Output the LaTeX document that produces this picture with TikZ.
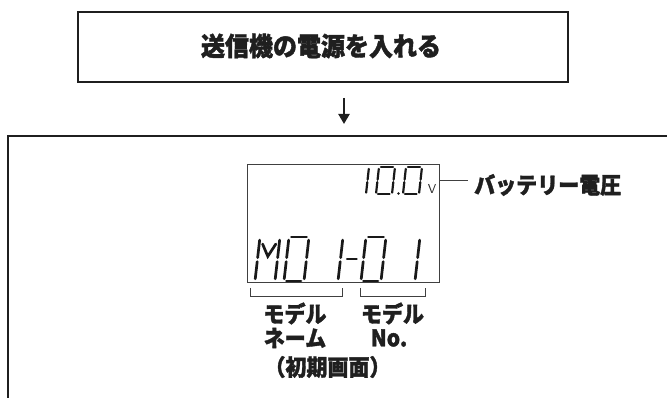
\documentclass[tikz,border=0pt]{standalone}
\usepackage{fontspec}
\newfontfamily\jp{Noto Sans CJK JP}[BoldFeatures={FakeBold=1.6}]
\usetikzlibrary{arrows.meta}
\tikzset{
  frame/.style={draw=black!88, line width=2.6pt},
  lcd/.style={draw=black!75, line width=1pt},
  thinline/.style={draw=black!75, line width=1pt},
  segstyle/.style={draw=black!90, line cap=round},
  lbl/.style={font=\jp\bfseries\fontsize{21}{24}\selectfont, text=black!88, inner sep=0pt, align=center, yscale=1.08},
  ttl/.style={font=\jp\bfseries\fontsize{24}{28}\selectfont, text=black!88, inner sep=0pt, yscale=1.08}
}
% seven-segment helpers
\def\dgx{0}\def\dgy{0}\def\dgw{20}\def\dgh{44}\def\dgs{5}
\newcommand\dseg[4]{\draw[segstyle] ({\dgx+#1*\dgw+\dgs*#2},{\dgy-#2*\dgh}) -- ({\dgx+#3*\dgw+\dgs*#4},{\dgy-#4*\dgh});}
\newcommand\segA{\dseg{0.12}{1}{0.88}{1}}
\newcommand\segB{\dseg{1}{0.93}{1}{0.53}}
\newcommand\segC{\dseg{1}{0.44}{1}{0.05}}
\newcommand\segD{\dseg{0.12}{0}{0.85}{0}}
\newcommand\segE{\dseg{0}{0.44}{0}{0.05}}
\newcommand\segF{\dseg{0}{0.93}{0}{0.53}}
\newcommand\digzero{\segA\segB\segC\segD\segE\segF}
\newcommand\digone{\segB\segC}
\begin{document}
\begin{tikzpicture}[x=1pt,y=-1pt]
\useasboundingbox (0,0) rectangle (667,398);
% top box
\node[frame, minimum width=490pt, minimum height=70pt, inner sep=0pt] (top) at (323,47) {};
\node[ttl] (toptext) at (321,46) {送信機の電源を入れる};
% arrow
\coordinate (a1) at (344,98);
\coordinate (a2) at (344,124);
\draw[line width=2.2pt, black!88, -{Triangle[width=11pt,length=10pt]}] (a1) -- (a2);
% big frame
\draw[frame] (8,402) -- (8,136) -- (672,136);
% lcd
\node[lcd, minimum width=192pt, minimum height=118pt, inner sep=0pt] (lcd) at (343,224) {};
% bottom row digits
\begin{scope}[segstyle/.append style={line width=2.7pt}]
\def\dgy{281}\def\dgw{20}\def\dgh{44}\def\dgs{5}
% M
\def\dgx{255}
\segB\segC\segE\segF
\draw[segstyle] ({\dgx+0.17*\dgw+\dgs*0.84},{\dgy-0.84*\dgh}) -- ({\dgx+0.5*\dgw+\dgs*0.56},{\dgy-0.56*\dgh}) -- ({\dgx+0.83*\dgw+\dgs*0.84},{\dgy-0.84*\dgh});
\def\dgx{284}\digzero
\def\dgx{318}\digone
\def\dgx{342}\dseg{0.13}{0.5}{0.6}{0.5}
\def\dgx{361}\digzero
\def\dgx{395}\digone
\end{scope}
% top row digits
\begin{scope}[segstyle/.append style={line width=2.2pt}]
\def\dgy{194}\def\dgw{16}\def\dgh{27}\def\dgs{3}
\def\dgx{350}\digone
\def\dgx{376}\digzero
\fill[black!90] (398.5,193.5) circle (1.4pt);
\def\dgx{403}\digzero
\end{scope}
\node[font=\sffamily\fontsize{13}{14}\selectfont, inner sep=0pt, text=black!85] (volt) at (432,188.5) {V};
% battery label
\coordinate (bl) at (440,181);
\coordinate (bl2) at (468,181);
\node[lbl, anchor=west] (batt) at (474,185) {バッテリー電圧};
\draw[thinline] (bl) -- (bl2);
% brackets
\coordinate (b1a) at (250,288); \coordinate (b1b) at (342,288);
\coordinate (b2a) at (360,288); \coordinate (b2b) at (425,288);
\draw[thinline] (b1a) -- ++(0,9) -| (b1b);
\draw[thinline] (b2a) -- ++(0,9) -| (b2b);
% labels
\node[lbl] (mn1) at (295,313.5) {モデル};
\node[lbl] (mn2) at (295,338) {ネーム};
\node[lbl] (mno1) at (392.5,313.5) {モデル};
\node[lbl] (mno2) at (389,338) {No.};
\node[lbl] (init) at (327.5,367) {（初期画面）};
\end{tikzpicture}
\end{document}
